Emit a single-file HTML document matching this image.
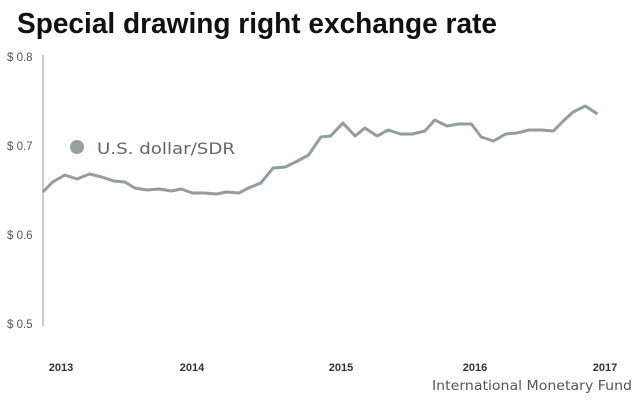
<!DOCTYPE html>
<html><head><meta charset="utf-8"><style>
body{margin:0;background:#fff;width:640px;height:401px;overflow:hidden;font-family:"Liberation Sans",sans-serif;}
</style></head><body>
<svg width="640" height="401" viewBox="0 0 640 401" xmlns="http://www.w3.org/2000/svg">
<text x="17" y="33" font-family="Liberation Sans, sans-serif" font-weight="bold" font-size="28.5" fill="#111" textLength="480" lengthAdjust="spacingAndGlyphs">Special drawing right exchange rate</text>
<line x1="43" y1="55" x2="43" y2="326" stroke="#bbb" stroke-width="1.5"/>
<g font-family="Liberation Sans, sans-serif" font-size="11.5" fill="#555">
<text x="7" y="61">$ 0.8</text>
<text x="7" y="150">$ 0.7</text>
<text x="7" y="239">$ 0.6</text>
<text x="7" y="328">$ 0.5</text>
</g>
<circle cx="77" cy="147" r="7" fill="#93a1a1"/>
<text x="97" y="154" font-family="DejaVu Sans, sans-serif" font-size="16" fill="#666" textLength="138" lengthAdjust="spacingAndGlyphs">U.S. dollar/SDR</text>
<polyline fill="none" stroke="#929e9d" stroke-width="3" stroke-linejoin="round" vector-effect="non-scaling-stroke" transform="scale(1.2245,1)" points="35,192 43,182 53,175 63,179 73,174 83,177 93,181 102,182 110,188 120,190 130,189 140,191 148,189 157,193 167,193 177,194 185,192 195,193 203,188 213,183 223,168 233,167 243,161 252,155 262,137 270,136 280,123 290,136 298,128 308,136 317,130 327,134 337,134 347,131 355,120 365,126 375,124 385,124 393,137 403,141 413,134 422,133 432,130 442,130 452,131 460,121 468,112 478,106 488,114"/>
<g font-family="Liberation Sans, sans-serif" font-size="11" font-weight="bold" fill="#333">
<text x="61" y="371" text-anchor="middle">2013</text>
<text x="192" y="371" text-anchor="middle">2014</text>
<text x="341" y="371" text-anchor="middle">2015</text>
<text x="475" y="371" text-anchor="middle">2016</text>
<text x="605" y="371" text-anchor="middle">2017</text>
</g>
<text x="432" y="390" font-family="DejaVu Sans, sans-serif" font-size="13" fill="#555" textLength="200" lengthAdjust="spacingAndGlyphs">International Monetary Fund</text>
</svg>
</body></html>
